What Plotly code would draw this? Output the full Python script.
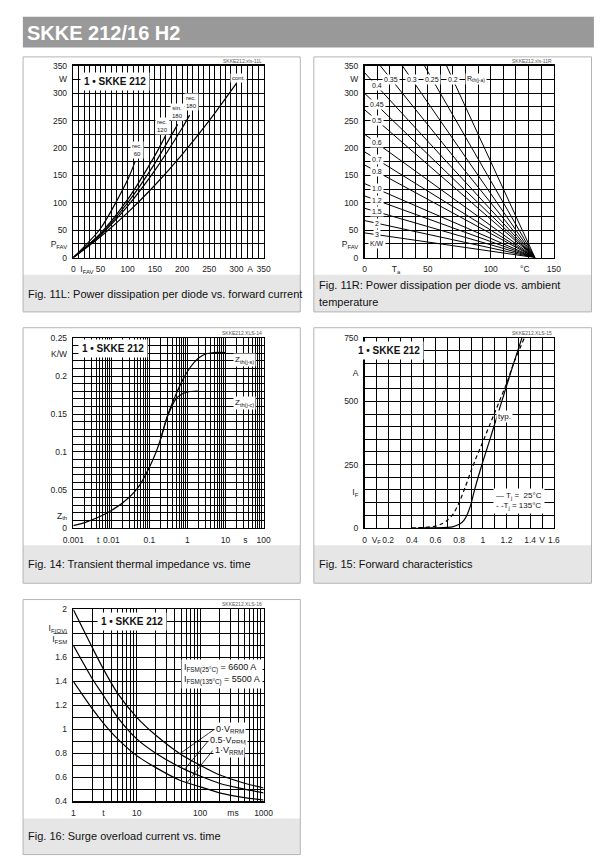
import math
import plotly.graph_objects as go

# ------------------------------------------------------------------ data
# Fig. 11L : power dissipation per diode vs. forward current
ifav_cont = [0, 50, 100, 150, 200, 250, 300]
pfav_cont = [0, 38, 82, 132, 188, 250, 318]
ifav_rec180 = [0, 50, 100, 150, 200, 214]
pfav_rec180 = [0, 41, 94, 159, 236, 260]
ifav_sin180 = [0, 50, 100, 150, 192]
pfav_sin180 = [0, 42, 100, 172, 243]
ifav_rec120 = [0, 50, 100, 150, 170]
pfav_rec120 = [0, 44, 106, 186, 223]
ifav_rec60 = [0, 50, 100, 114]
pfav_rec60 = [0, 53, 142, 176]
labels_11l = ["cont.", "rec.<br>180", "sin.<br>180", "rec.<br>120", "rec.<br>60"]

# Fig. 11R : power dissipation per diode vs. ambient temperature
rth_ja = ["0.2", "0.25", "0.3", "0.35", "0.4", "0.45", "0.5", "0.6", "0.7",
          "0.8", "1.0", "1.2", "1.5", "2", "3"]
ta_begin = [65, 47.5, 30, 12.5, 0, 0, 0, 0, 0, 0, 0, 0, 0, 0, 0]
p_begin = [350, 350, 350, 350, 337.5, 300, 270, 225, 193, 169, 135, 112.5, 90, 67.5, 45]
ta_end = 135
p_end = 0

# Fig. 14 : transient thermal impedance vs. time
t_zth = [0.001, 0.002, 0.005, 0.01, 0.02, 0.05, 0.1, 0.15, 0.2, 0.3, 0.5,
         0.7, 1, 1.5, 2, 3, 5, 10]
zth_js = [0.003, 0.007, 0.015, 0.023, 0.033, 0.053, 0.08, 0.1, 0.118, 0.148,
          0.176, 0.192, 0.206, 0.218, 0.224, 0.229, 0.231, 0.231]
t_zth_jc = [0.2, 0.3, 0.5, 0.7, 1, 1.5, 2]
zth_jc = [0.118, 0.147, 0.17, 0.176, 0.179, 0.18, 0.18]

# Fig. 15 : forward characteristics
vf_25 = [0.45, 0.6, 0.7, 0.75, 0.8, 0.84, 0.87, 0.9, 0.93, 0.96, 1.0, 1.05,
         1.1, 1.16, 1.2, 1.26, 1.33]
if_25 = [0, 0.5, 2, 5, 14, 30, 55, 95, 150, 200, 262, 335, 410, 500, 560, 650, 750]
vf_135 = [0.4, 0.5, 0.6, 0.65, 0.7, 0.75, 0.8, 0.85, 0.9, 0.95, 1.0, 1.05,
          1.1, 1.15, 1.2, 1.26, 1.35]
if_135 = [0, 1.5, 7, 15, 30, 55, 100, 160, 225, 285, 340, 398, 455, 512, 570, 650, 750]

# Fig. 16 : surge overload current vs. time
t_ms = [1, 2, 3, 5, 10, 20, 50, 100, 200, 500, 1000]
ov_0vrrm = [2.0, 1.68, 1.5, 1.3, 1.1, 0.95, 0.79, 0.7, 0.62, 0.55, 0.51]
ov_05vrrm = [1.7, 1.42, 1.28, 1.1, 0.92, 0.8, 0.68, 0.61, 0.55, 0.5, 0.47]
ov_1vrrm = [1.4, 1.17, 1.05, 0.92, 0.78, 0.68, 0.57, 0.52, 0.47, 0.43, 0.41]

# ------------------------------------------------------------------ geometry
PW, PH = 616, 865


def px(x):
    return x / PW


def py(y):
    return 1 - y / PH


FONT = "Liberation Sans, Arial, Helvetica, sans-serif"
TICKFONT = dict(family=FONT, size=8.5, color="#222")

COL_L = (64.5, 261.5)
COL_R = (366, 562)
ROW1 = (61.5, 255.5)
ROW2 = (337, 529)
ROW3 = (611.5, 805.5)


def lin_grid(a, b, step):
    n = int(round((b - a) / step))
    return [round(a + k * step, 6) for k in range(n + 1)]


def log_grid(d0, d1):
    vals = []
    for d in range(d0, d1):
        for m in range(1, 10):
            vals.append(m * 10 ** d)
    vals.append(10 ** d1)
    return vals


def make_axis(col_or_row, anchor, rng, grid, tickvals, ticktext, horizontal, log=False):
    if horizontal:
        dom = [px(col_or_row[0]), px(col_or_row[1])]
    else:
        dom = [py(col_or_row[1]), py(col_or_row[0])]
    return dict(
        domain=dom, anchor=anchor, range=rng, type="log" if log else "linear",
        tickmode="array", tickvals=tickvals, ticktext=ticktext, tickangle=0,
        ticks="outside", ticklen=3, tickcolor="rgba(0,0,0,0)",
        showgrid=False, zeroline=False,
        showline=True, mirror=True, linecolor="black", linewidth=1.5,
        tickfont=TICKFONT, fixedrange=True,
        minor=dict(tickmode="array", tickvals=grid, ticks="inside", ticklen=0,
                   showgrid=True, gridcolor="black", gridwidth=1),
    )


fig = go.Figure()


def add_line(xs, ys, sub, width=1.2, dash="solid", shape="spline"):
    xr = "x" if sub == 1 else "x%d" % sub
    yr = "y" if sub == 1 else "y%d" % sub
    line = dict(color="black", width=width, dash=dash, shape=shape)
    if shape == "spline":
        line["smoothing"] = 0.7
    fig.add_trace(go.Scatter(x=xs, y=ys, mode="lines", line=line, xaxis=xr, yaxis=yr,
                             showlegend=False, hoverinfo="skip"))


# Fig 11L curves
for xs, ys in [(ifav_cont, pfav_cont), (ifav_rec180, pfav_rec180), (ifav_sin180, pfav_sin180),
               (ifav_rec120, pfav_rec120), (ifav_rec60, pfav_rec60)]:
    add_line(xs, ys, 1)

# Fig 11R straight lines
for k in range(len(rth_ja)):
    add_line([ta_begin[k], ta_end], [p_begin[k], p_end], 2, width=1, shape="linear")

# Fig 14
add_line(t_zth, zth_js, 3)
add_line(t_zth_jc, zth_jc, 3)

# Fig 15
add_line(vf_25, if_25, 4)
add_line(vf_135, if_135, 4, dash="4px,3px")

# Fig 16
for ys in (ov_0vrrm, ov_05vrrm, ov_1vrrm):
    add_line(t_ms, ys, 5)

# ------------------------------------------------------------------ axes
p_ticks = [0, 25] + lin_grid(50, 300, 50) + [325, 350]
p_text = ["0", "P<sub>FAV</sub>"] + [str(v) for v in range(50, 301, 50)] + ["W", "350"]
i_ticks = [0, 25] + lin_grid(50, 300, 50) + [325, 350]
i_text = ["0", "I<sub>FAV</sub>"] + [str(v) for v in range(50, 301, 50)] + ["A", "350"]

layout_axes = dict(
    xaxis=make_axis(COL_L, "y", [0, 350], lin_grid(0, 350, 10), i_ticks, i_text, True),
    yaxis=make_axis(ROW1, "x", [0, 350], lin_grid(0, 350, 25), p_ticks, p_text, False),
    xaxis2=make_axis(COL_R, "y2", [0, 150], lin_grid(0, 150, 10),
                     [0, 25, 50, 100, 127, 150], ["0", "T<sub>a</sub>", "50", "100", "°C", "150"], True),
    yaxis2=make_axis(ROW1, "x2", [0, 350], lin_grid(0, 350, 25), p_ticks, p_text, False),
    xaxis3=make_axis(COL_L, "y3", [-3, 2], log_grid(-3, 2),
                     [0.001, 0.0045, 0.01, 0.1, 1, 10, 33, 100],
                     ["0.001", "t", "0.01", "0.1", "1", "10", "s", "100"], True, log=True),
    yaxis3=make_axis(ROW2, "x3", [0, 0.25], lin_grid(0, 0.25, 0.01),
                     [0, 0.016, 0.05, 0.1, 0.15, 0.2, 0.229, 0.25],
                     ["0", "Z<sub>th</sub>", "0.05", "0.1", "0.15", "0.2", "K/W", "0.25"], False),
    xaxis4=make_axis(COL_R, "y4", [0, 1.6], lin_grid(0, 1.6, 0.1),
                     [0, 0.1, 0.2, 0.4, 0.6, 0.8, 1.0, 1.2, 1.4, 1.5, 1.6],
                     ["0", "V<sub>F</sub>", "0.2", "0.4", "0.6", "0.8", "1", "1.2", "1.4", "V", "1.6"], True),
    yaxis4=make_axis(ROW2, "x4", [0, 750], lin_grid(0, 750, 50),
                     [0, 140, 250, 500, 612, 750], ["0", "I<sub>F</sub>", "250", "500", "A", "750"], False),
    xaxis5=make_axis(COL_L, "y5", [0, 3], log_grid(0, 3),
                     [1, 3, 10, 100, 330, 1000], ["1", "t", "10", "100", "ms", "1000"], True, log=True),
    yaxis5=make_axis(ROW3, "x5", [0.4, 2.0], lin_grid(0.4, 2.0, 0.1),
                     [0.4, 0.6, 0.8, 1.0, 1.2, 1.4, 1.6, 1.8, 2.0],
                     ["0.4", "0.6", "0.8", "1", "1.2", "1.4", "1.6",
                      "I<sub>F(OV)</sub><br>I<sub>FSM</sub>", "2"], False),
)

# ------------------------------------------------------------------ shapes
shapes = []
# header bar
shapes.append(dict(type="rect", xref="paper", yref="paper", x0=px(12.3), x1=px(603.5),
                   y0=py(43), y1=py(12), fillcolor="#999999", line=dict(width=0), layer="below"))
panels = [
    (12.5, 52.5, 299.5, 310.5, 273),
    (313.5, 52.5, 601, 310.5, 273),
    (12.5, 326.5, 299.5, 585, 546.5),
    (313.5, 326.5, 601, 585, 546.5),
    (12.5, 601.5, 299.5, 859.5, 823),
]
for (x0, y0, x1, y1, yc) in panels:
    shapes.append(dict(type="rect", xref="paper", yref="paper", x0=px(x0), x1=px(x1),
                       y0=py(yc), y1=py(y1), fillcolor="#e6e6e6", line=dict(width=0), layer="below"))
    shapes.append(dict(type="rect", xref="paper", yref="paper", x0=px(x0), x1=px(x1),
                       y0=py(y1), y1=py(y0), fillcolor="rgba(0,0,0,0)",
                       line=dict(color="#b4b4b4", width=1), layer="below"))
# fraction bar of the Fig. 16 y label
shapes.append(dict(type="line", xref="paper", yref="y5", x0=px(44), x1=px(58.5), y0=1.8, y1=1.8,
                   line=dict(color="#222", width=0.8)))

# ------------------------------------------------------------------ annotations
anns = []


def ann(text, x, y, sub, size=7, bold=False, bg="white", xanchor="center", yanchor="middle",
        pad=1, align="center", color="#111"):
    xr = "x" if sub == 1 else "x%d" % sub
    yr = "y" if sub == 1 else "y%d" % sub
    if bold:
        text = "<b>%s</b>" % text
    anns.append(dict(text=text, x=x, y=y, xref=xr, yref=yr, showarrow=False,
                     font=dict(family=FONT, size=size, color=color), bgcolor=bg,
                     xanchor=xanchor, yanchor=yanchor, borderpad=pad, align=align))


def paper_text(text, x, y, size, color="#111", bold=False, xanchor="left"):
    if bold:
        text = "<b>%s</b>" % text
    anns.append(dict(text=text, x=px(x), y=py(y), xref="paper", yref="paper", showarrow=False,
                     font=dict(family=FONT, size=size, color=color), xanchor=xanchor,
                     yanchor="middle", align="left"))


paper_text("SKKE 212/16 H2", 15, 28, 20, color="white", bold=True)

# captions
paper_text("Fig. 11L: Power dissipation per diode vs. forward current", 16, 292, 11)
paper_text("Fig. 11R: Power dissipation per diode vs. ambient", 317, 283.5, 11)
paper_text("temperature", 317, 300, 11)
paper_text("Fig. 14: Transient thermal impedance vs. time", 16, 566, 11)
paper_text("Fig. 15: Forward characteristics", 317, 566, 11)
paper_text("Fig. 16: Surge overload current vs. time", 16, 841, 11)

# watermarks
for sub, txt in [(1, "SKKE212.xls-11L"), (2, "SKKE212.xls-11R"), (3, "SKKE212.XLS-14"),
                 (4, "SKKE212.XLS-15"), (5, "SKKE212.XLS-16")]:
    xr = "x" if sub == 1 else "x%d" % sub
    yr = "y" if sub == 1 else "y%d" % sub
    anns.append(dict(text=txt, x=1, y=1, xref=xr + " domain", yref=yr + " domain", showarrow=False,
                     font=dict(family=FONT, size=5, color="#555"), xanchor="right",
                     yanchor="bottom", yshift=0))

# Fig 11L labels
ann("1 • SKKE 212", 76, 322, 1, size=10, bold=True, pad=3)
lab_pos_11l = [(303, 327), (218, 283), (192, 266), (164, 241), (118, 197)]
for txt, (lx, ly) in zip(labels_11l, lab_pos_11l):
    ann(txt, lx, ly, 1, size=6)

# Fig 11R labels (placed on the lines)
for k, lab in enumerate(rth_ja):
    if ta_begin[k] > 0:
        frac = (p_begin[k] - 325) / (p_begin[k] - p_end)
        lx = ta_begin[k] + frac * (ta_end - ta_begin[k])
        ly = 325
    else:
        lx = 9.5
        ly = p_begin[k] + (lx - ta_begin[k]) / (ta_end - ta_begin[k]) * (p_end - p_begin[k])
    ann(lab, lx, ly, 2, size=7)
ann("R<sub>th(j-a)</sub>", 88, 325, 2, size=7)
ann("K/W", 9.5, 25, 2, size=7)

# Fig 14 labels
ann("1 • SKKE 212", math.log10(0.011), 0.236, 3, size=10, bold=True, pad=3)
ann("Z<sub>th(j-s)</sub>", math.log10(32), 0.221, 3, size=8)
ann("Z<sub>th(j-c)</sub>", math.log10(32), 0.165, 3, size=8)

# Fig 15 labels
ann("1 • SKKE 212", 0.21, 700, 4, size=10, bold=True, pad=3)
ann("typ.", 1.18, 440, 4, size=8)
ann("— T<sub>j</sub> =  25°C<br>- -T<sub>j</sub> = 135°C", 1.085, 105, 4, size=8,
    xanchor="left", align="left", pad=2)

# Fig 16 labels
ann("1 • SKKE 212", 0.92, 1.9, 5, size=10, bold=True, pad=3)
ann("I<sub>FSM(25°C)</sub> = 6600 A<br>I<sub>FSM(135°C)</sub> = 5500 A", math.log10(50), 1.46, 5,
    size=9, xanchor="left", align="left", pad=2)


def interp_log(t, ts, ys):
    lt = math.log10(t)
    for a in range(len(ts) - 1):
        l0, l1 = math.log10(ts[a]), math.log10(ts[a + 1])
        if l0 <= lt <= l1:
            return ys[a] + (lt - l0) / (l1 - l0) * (ys[a + 1] - ys[a])
    return ys[-1]


vrrm_labels = ["0·V<sub>RRM</sub>", "0.5·V<sub>RRM</sub>", "1·V<sub>RRM</sub>"]
vrrm_curves = [ov_0vrrm, ov_05vrrm, ov_1vrrm]
vrrm_lab_t = [168, 135, 158]
vrrm_lab_y = [1.0, 0.905, 0.823]
vrrm_hit_t = [48, 57, 62]
for lab, cur, lt, ly, ht in zip(vrrm_labels, vrrm_curves, vrrm_lab_t, vrrm_lab_y, vrrm_hit_t):
    hy = interp_log(ht, t_ms, cur)
    add_line([ht, lt], [hy, ly], 5, width=0.8, shape="linear")
    ann(lab, math.log10(lt), ly, 5, size=9, xanchor="left", pad=1)

fig.update_layout(
    width=PW, height=PH, autosize=False,
    margin=dict(l=0, r=0, t=0, b=0, pad=0),
    paper_bgcolor="white", plot_bgcolor="white",
    font=dict(family=FONT, size=9, color="#222"),
    showlegend=False,
    shapes=shapes, annotations=anns,
    **layout_axes,
)

fig.write_html(
    "out.html",
    config={"displayModeBar": False, "staticPlot": True},
    post_script="document.body.style.margin='0';document.body.style.overflow='hidden';",
)
